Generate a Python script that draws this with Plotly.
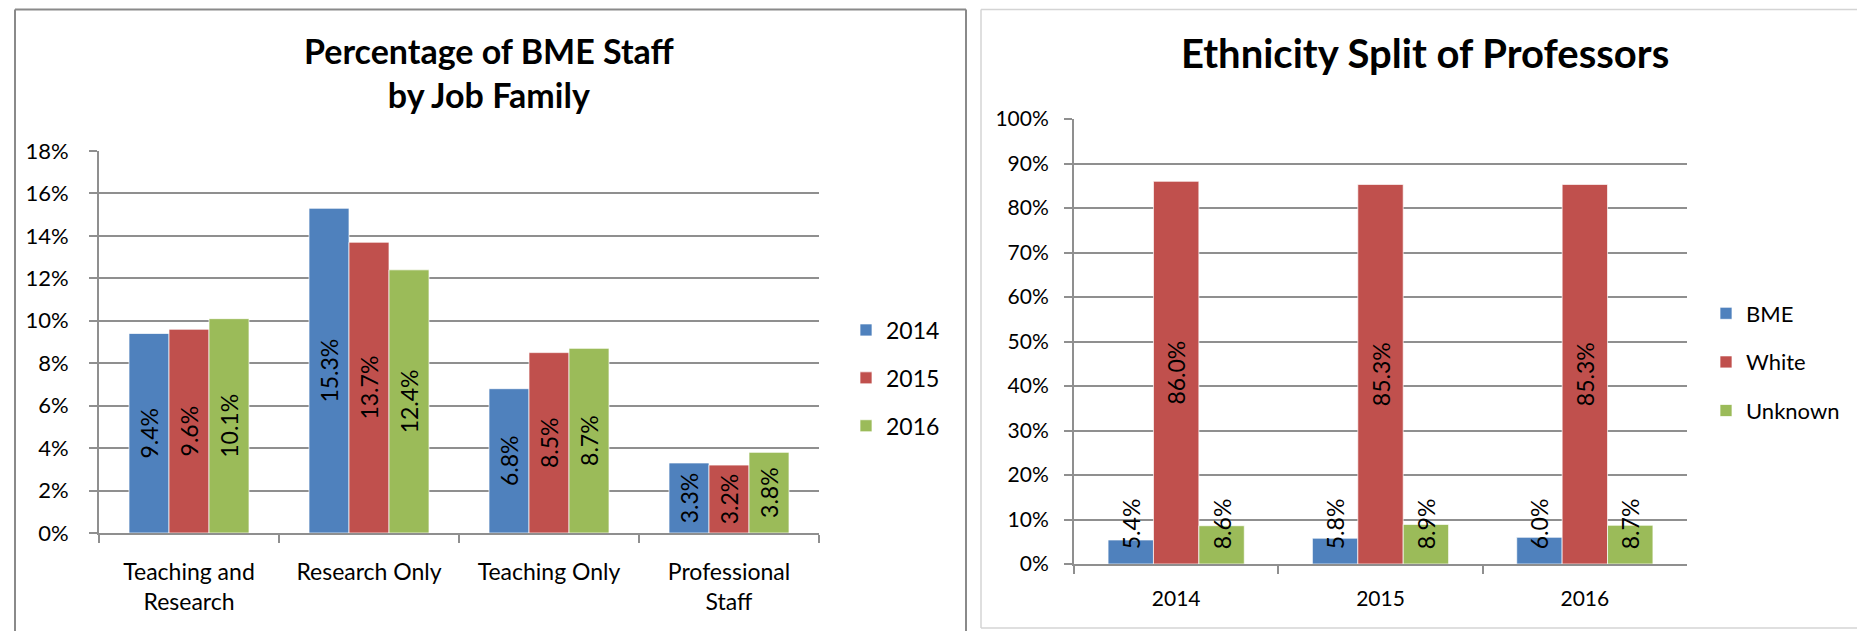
import plotly.graph_objects as go

# data
job_families = ["Teaching and<br>Research", "Research Only", "Teaching Only", "Professional<br>Staff"]
years = ["2014", "2015", "2016"]
bme_2014 = [9.4, 15.3, 6.8, 3.3]
bme_2015 = [9.6, 13.7, 8.5, 3.2]
bme_2016 = [10.1, 12.4, 8.7, 3.8]

ethnicities = ["BME", "White", "Unknown"]
prof_bme = [5.4, 5.8, 6.0]
prof_white = [86.0, 85.3, 85.3]
prof_unknown = [8.6, 8.9, 8.7]

colors = ["#4F81BD", "#C0504D", "#9BBB59"]

W, H = 1865, 631
OFF = 8  # page body margin pushes the figure 8px right and down
FONT = "Lato"

def px_x(x):
    return (x - OFF) / W

def px_y(y):
    return 1 - (y - OFF) / H

fig = go.Figure()

# left chart: BME staff by job family
for i, (yr, vals) in enumerate(zip(years, [bme_2014, bme_2015, bme_2016])):
    fig.add_trace(go.Bar(
        x=job_families, y=vals, name=yr,
        marker=dict(color=colors[i], line=dict(color="rgba(255,255,255,0.7)", width=1)),
        texttemplate="%{y:.1f}%",
        textposition="inside", insidetextanchor="middle", textangle=-90,
        constraintext="none",
        textfont=dict(family=FONT, size=23, color="black"),
        legendgroup=yr, legend="legend",
        xaxis="x", yaxis="y",
    ))

# right chart: ethnicity split of professors
# short bars keep their label sitting a little above the base, like the original
for i, (eth, vals) in enumerate(zip(ethnicities, [prof_bme, prof_white, prof_unknown])):
    tall = eth == "White"
    fig.add_trace(go.Bar(
        x=years, y=vals, name=eth,
        marker=dict(color=colors[i], line=dict(color="rgba(255,255,255,0.7)", width=1)),
        texttemplate="%{y:.1f}%" if tall else "\u00a0\u00a0%{y:.1f}%",
        textposition="inside",
        insidetextanchor="middle" if tall else "start",
        textangle=-90, constraintext="none",
        textfont=dict(family=FONT, size=23, color="black"),
        legendgroup=eth, legend="legend2",
        xaxis="x2", yaxis="y2",
    ))

grid = "#8f8f8f"
axis_common = dict(
    showline=True, linecolor=grid, linewidth=2, automargin=False,
    ticks="outside", ticklen=8, tickcolor=grid, tickwidth=2,
)

def seg(x0, y0, x1, y1, color, width):
    return dict(type="line", xref="paper", yref="paper",
                x0=px_x(x0), y0=px_y(y0), x1=px_x(x1), y1=px_y(y1),
                line=dict(color=color, width=width), layer="below")

fig.update_layout(
    width=W, height=H, autosize=False,
    margin=dict(l=0, r=0, t=0, b=0, autoexpand=False),
    paper_bgcolor="white", plot_bgcolor="white",
    barmode="group", bargap=1/3, bargroupgap=0,
    font=dict(family=FONT, color="black"),
    xaxis=dict(domain=[px_x(99), px_x(819)], anchor="y", type="category",
               tickson="boundaries", showgrid=False, ticklabelstandoff=17,
               tickfont=dict(family=FONT, size=23, color="black"), **axis_common),
    yaxis=dict(domain=[px_y(533), px_y(151)], anchor="x", range=[0, 18], dtick=2,
               ticksuffix="%", showgrid=True, gridcolor=grid, gridwidth=2,
               zeroline=False, ticklabelstandoff=16,
               tickfont=dict(family=FONT, size=22, color="black"), **axis_common),
    xaxis2=dict(domain=[px_x(1074), px_x(1687)], anchor="y2", type="category",
                tickson="boundaries", showgrid=False, ticklabelstandoff=15,
                tickfont=dict(family=FONT, size=21, color="black"), **axis_common),
    yaxis2=dict(domain=[px_y(564), px_y(119)], anchor="x2", range=[0, 100], dtick=10,
                ticksuffix="%", showgrid=True, gridcolor=grid, gridwidth=2,
                zeroline=False, ticklabelstandoff=11,
                tickfont=dict(family=FONT, size=21, color="black"), **axis_common),
    legend=dict(x=px_x(846), y=px_y(378), xanchor="left", yanchor="middle",
                font=dict(family=FONT, size=23), traceorder="grouped",
                tracegroupgap=15, bgcolor="rgba(0,0,0,0)"),
    legend2=dict(x=px_x(1706), y=px_y(362), xanchor="left", yanchor="middle",
                 font=dict(family=FONT, size=22), traceorder="grouped",
                 tracegroupgap=17, bgcolor="rgba(0,0,0,0)"),
    annotations=[
        dict(text="<b>Percentage of BME Staff</b><br><b>by Job Family</b>",
             x=px_x(489), y=px_y(72), xref="paper", yref="paper",
             xanchor="center", yanchor="middle", showarrow=False,
             font=dict(family=FONT, size=34, color="black")),
        dict(text="<b>Ethnicity Split of Professors</b>",
             x=px_x(1425), y=px_y(53), xref="paper", yref="paper",
             xanchor="center", yanchor="middle", showarrow=False,
             font=dict(family=FONT, size=40, color="black")),
    ],
    # chart frames: left frame runs off the bottom, right frame off the right edge
    # (top edges kept just inside the figure so they are not clipped)
    shapes=[
        seg(15, 9.5, 966, 9.5, "#8a8a8a", 2),
        seg(15, 9.5, 15, 640, "#8a8a8a", 2),
        seg(966, 9.5, 966, 640, "#8a8a8a", 2),
        seg(981, 9.5, 1873, 9.5, "#d4d4d4", 1.5),
        seg(981, 9.5, 981, 628, "#d4d4d4", 1.5),
        seg(981, 628, 1873, 628, "#d4d4d4", 1.5),
    ],
)

fig.write_html("out.html")
